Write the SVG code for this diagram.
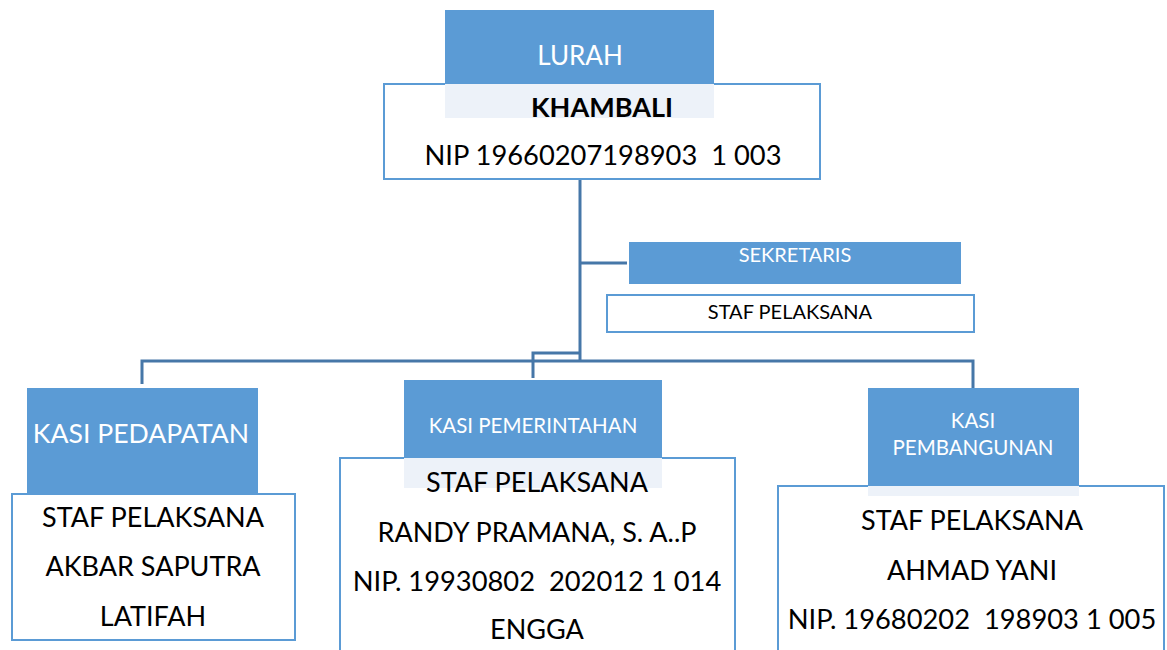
<svg xmlns="http://www.w3.org/2000/svg" width="1167" height="650" viewBox="0 0 1167 650">
<style>
.box{fill:#fff;stroke:#5B9BD5;stroke-width:2}
.hdr{fill:#5B9BD5}
.lt{fill:#EDF2F9}
.conn{fill:none;stroke:#4677A8;stroke-width:3}
text{font-family:Lato,"Liberation Sans",sans-serif;text-anchor:middle;white-space:pre}
.w{fill:#fff}
.k{fill:#000}
</style>
<rect width="1167" height="650" fill="#fff"/>
<g id="connectors">
<line x1="580" y1="120" x2="580" y2="179" stroke="#D6E3F2" stroke-width="2"/>
<polyline class="conn" points="580,179 580,361"/>
<polyline class="conn" points="580,263 627,263"/>
<polyline class="conn" points="580,353 533,353 533,378"/>
<polyline class="conn" points="142,384 142,361 973,361 973,388"/>
</g>
<g id="lurah">
<rect class="box" x="384" y="84" width="436" height="95"/>
<rect class="hdr" x="445" y="10" width="269" height="74"/>
<rect class="lt" x="445" y="84" width="269" height="34"/>
<text class="w" x="580" y="65" font-size="26">LURAH</text>
<text class="k" x="602" y="117" font-size="27" font-weight="bold">KHAMBALI</text>
<text class="k" x="603" y="165" font-size="27.3" xml:space="preserve">NIP 19660207198903  1 003</text>
</g>
<g id="sekretaris">
<rect class="hdr" x="629" y="242" width="332" height="42"/>
<text class="w" x="795" y="262" font-size="20">SEKRETARIS</text>
</g>
<g id="staf-sekretaris">
<rect class="box" x="607" y="295" width="367" height="37"/>
<text class="k" x="790" y="319" font-size="20">STAF PELAKSANA</text>
</g>
<g id="kasi-pedapatan">
<rect class="box" x="12" y="494" width="283" height="146"/>
<rect class="hdr" x="27" y="388" width="231" height="106"/>
<text class="w" x="141" y="443" font-size="26.6">KASI PEDAPATAN</text>
<text class="k" x="153" y="527" font-size="27">STAF PELAKSANA</text>
<text class="k" x="153" y="576" font-size="27">AKBAR SAPUTRA</text>
<text class="k" x="153" y="626" font-size="27">LATIFAH</text>
</g>
<g id="kasi-pemerintahan">
<rect class="box" x="340" y="458" width="395" height="200"/>
<rect class="hdr" x="404" y="380" width="258" height="78"/>
<rect class="lt" x="404" y="458" width="258" height="30"/>
<text class="w" x="533" y="433" font-size="20.5">KASI PEMERINTAHAN</text>
<text class="k" x="537" y="492" font-size="27">STAF PELAKSANA</text>
<text class="k" x="537" y="542" font-size="27">RANDY PRAMANA, S. A..P</text>
<text class="k" x="537" y="591" font-size="27.3" xml:space="preserve">NIP. 19930802  202012 1 014</text>
<text class="k" x="537" y="639" font-size="27">ENGGA</text>
</g>
<g id="kasi-pembangunan">
<rect class="box" x="778" y="486" width="386" height="180"/>
<rect class="hdr" x="868" y="388" width="211" height="98"/>
<rect class="lt" x="868" y="486" width="211" height="10"/>
<text class="w" x="973" y="428" font-size="20.5">KASI</text>
<text class="w" x="973" y="455" font-size="20.5">PEMBANGUNAN</text>
<text class="k" x="972" y="530" font-size="27">STAF PELAKSANA</text>
<text class="k" x="972" y="580" font-size="27">AHMAD YANI</text>
<text class="k" x="972" y="629" font-size="27.3" xml:space="preserve">NIP. 19680202  198903 1 005</text>
</g>
</svg>
